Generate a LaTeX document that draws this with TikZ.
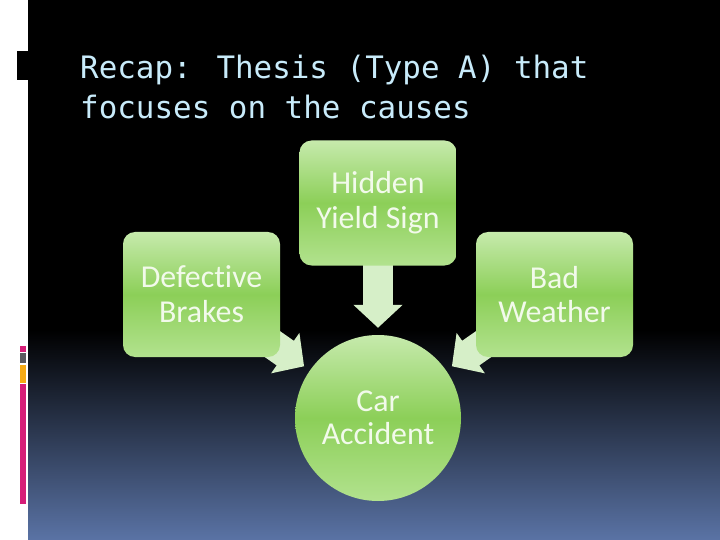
\documentclass[tikz,border=0pt]{standalone}
\usepackage{fontspec}
\setmainfont{Carlito}[Ligatures={NoCommon,NoRequired,NoContextual}]
\newfontfamily\titlefont{DejaVu Sans Mono}
\usetikzlibrary{arrows.meta}
\pgfdeclarelayer{bg}
\pgfdeclarelayer{arr}
\pgfsetlayers{bg,arr,main}
\definecolor{boxtop}{RGB}{198,234,172}
\definecolor{boxmid}{RGB}{140,207,88}
\definecolor{boxbot}{RGB}{178,226,142}
\definecolor{boxtext}{RGB}{242,250,235}
\definecolor{arrowgreen}{RGB}{214,239,200}
\definecolor{titlecol}{RGB}{200,235,250}
\definecolor{bgblue}{RGB}{90,115,165}
\definecolor{bgmid}{RGB}{28,36,55}
\definecolor{barmag}{RGB}{214,30,120}
\definecolor{bargray}{RGB}{90,90,95}
\definecolor{barorange}{RGB}{245,170,20}
\begin{document}
\begin{tikzpicture}[x=1bp,y=-1bp,
  box/.style={rectangle, rounded corners=12bp, minimum width=157bp, minimum height=125bp,
    top color=boxtop, bottom color=boxbot, middle color=boxmid, text=boxtext,
    align=center, font=\fontsize{32}{35}\selectfont, inner sep=0pt},
  circbox/.style={circle, minimum size=166bp, top color=boxtop, bottom color=boxbot, middle color=boxmid,
    text=boxtext, align=center, font=\fontsize{32}{33}\selectfont, inner sep=0pt},
  blk/.style={draw=arrowgreen, line width=30bp, -{Triangle[length=23bp,width=48bp]}, shorten >=7bp},
  ttl/.style={anchor=base west, font=\titlefont\fontsize{31}{39}\selectfont, text=titlecol, inner sep=0pt}]
\useasboundingbox (0,0) rectangle (720,540);
\begin{pgfonlayer}{bg}
  \fill[white] (0,0) rectangle (28,540);
  \fill[black] (28,0) rectangle (720,540);
  \shade[top color=black, middle color=bgmid, bottom color=bgblue] (28,330) rectangle (720,540);
  \fill[black] (17,51) rectangle (28,80);
  \fill[barmag] (20,346) rectangle (26,352);
  \fill[bargray] (20,353) rectangle (26,363);
  \fill[barorange] (20,365) rectangle (26,383);
  \fill[barmag] (20,384) rectangle (26,504);
\end{pgfonlayer}
\node[ttl] (t1) at (80,79) {Recap: Thesis (Type A) that};
\node[ttl] (t2) at (80,119) {focuses on the causes};
\node[box] (hid) at (378,203) {Hidden\\Yield Sign};
\node[box] (def) at (201.5,294.5) {Defective\\Brakes};
\node[box] (bad) at (554.5,294.5) {Bad\\Weather};
\node[circbox] (acc) at (378,418) {Car\\Accident};
\begin{pgfonlayer}{arr}
  \draw[blk] (hid.center) -- (acc);
  \draw[blk] (def.center) -- (acc);
  \draw[blk] (bad.center) -- (acc);
\end{pgfonlayer}
\end{tikzpicture}
\end{document}
